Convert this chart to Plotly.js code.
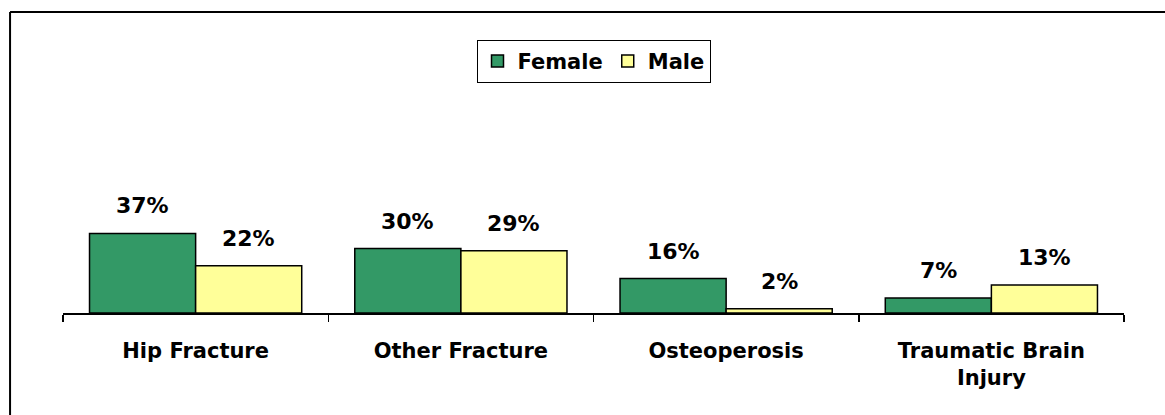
<!DOCTYPE html>
<html>
<head>
<meta charset="utf-8">
<script src="https://cdn.plot.ly/plotly-3.0.1.min.js"></script>
<style>
  html, body { margin: 0; padding: 0; background: #fff; overflow: hidden; }
  #chart { width: 1165px; height: 415px; }
</style>
</head>
<body>
<div id="chart"></div>
<script>
// ---- Data ----
const categories = ["Hip Fracture", "Other Fracture", "Osteoperosis", "Traumatic Brain<br>Injury"];
const femaleValues = [37, 30, 16, 7];
const maleValues = [22, 29, 2, 13];
const seriesNames = ["Female", "Male"];

// ---- Styles ----
const FONT = "DejaVu Sans, Arial, sans-serif";
const colors = ["#339966", "#FFFF99"];
const bargap = 0.2;

const series = [femaleValues, maleValues];
const traces = series.map((vals, s) => ({
  type: "bar",
  name: seriesNames[s],
  x: categories,
  y: vals,
  marker: { color: colors[s], line: { color: "#000", width: 1.5 } },
  hoverinfo: "skip"
}));

// value labels as annotations placed above each bar
const groupWidth = 1 - bargap;
const barW = groupWidth / series.length;
const annotations = [];
series.forEach((vals, s) => {
  vals.forEach((v, i) => {
    annotations.push({
      x: i - groupWidth / 2 + barW * (s + 0.5),
      y: v,
      xref: "x", yref: "y",
      text: v + "%",
      showarrow: false,
      yanchor: "bottom",
      yshift: 13,
      font: { family: FONT, size: 22, color: "#000", weight: 700 }
    });
  });
});

const layout = {
  width: 1165,
  height: 415,
  margin: { l: 63, r: 41, t: 98, b: 102 },
  paper_bgcolor: "#fff",
  plot_bgcolor: "#fff",
  bargap: bargap,
  bargroupgap: 0,
  barmode: "group",
  showlegend: true,
  legend: {
    orientation: "h",
    x: 0.5, xanchor: "center",
    y: 1.27, yanchor: "top",
    bordercolor: "#000", borderwidth: 1,
    bgcolor: "#fff",
    font: { family: FONT, size: 21, color: "#000", weight: 700 },
    itemwidth: 30,
    traceorder: "normal"
  },
  xaxis: {
    type: "category",
    showline: true, linecolor: "#000", linewidth: 1.5,
    ticks: "outside", tickson: "boundaries", ticklen: 7, tickwidth: 1.5, tickcolor: "#000",
    tickfont: { family: FONT, size: 21, color: "#000", weight: 700 },
    ticklabelstandoff: 18,
    showgrid: false, zeroline: false, fixedrange: true
  },
  yaxis: {
    range: [0, 100],
    visible: false, showgrid: false, zeroline: false, fixedrange: true
  },
  annotations: annotations,
  shapes: [
    { type: "line", xref: "paper", yref: "paper", x0: -0.0499, x1: 1.2, y0: 1.4, y1: 1.4,
      line: { color: "#000", width: 2 } },
    { type: "line", xref: "paper", yref: "paper", x0: -0.0499, x1: -0.0499, y0: 1.4, y1: -1,
      line: { color: "#000", width: 2 } }
  ]
};

Plotly.newPlot("chart", traces, layout, { staticPlot: true, displayModeBar: false });
</script>
</body>
</html>
